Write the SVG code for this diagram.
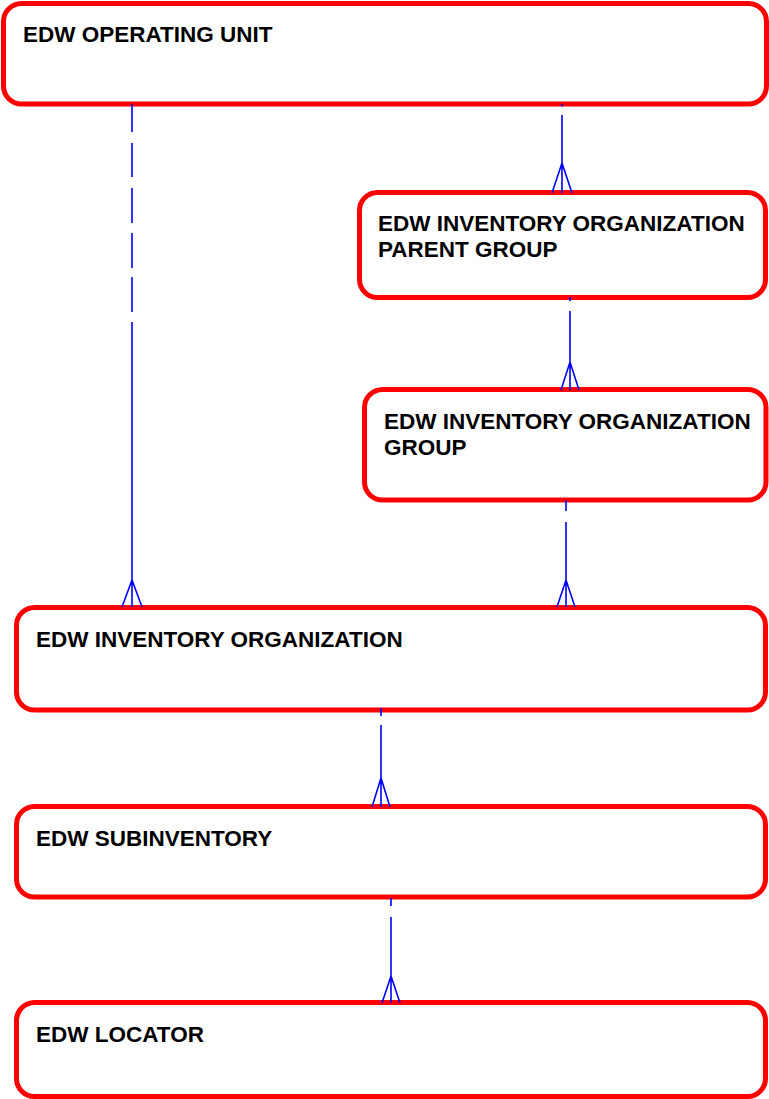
<svg xmlns="http://www.w3.org/2000/svg" width="769" height="1099" viewBox="0 0 769 1099">
<style>
.box{fill:#fff;stroke:#ff0000;stroke-width:5}
.lbl{font-family:"Liberation Sans",Arial,sans-serif;font-weight:bold;font-size:22.5px;fill:#000}
.con{fill:none;stroke:#0000ff;stroke-width:1.6}
</style>
<rect width="769" height="1099" fill="#fff"/>
<g id="operating-unit">
<rect class="box" x="3.5" y="3.5" width="763" height="100.5" rx="18"/>
<text class="lbl" x="23" y="42">EDW OPERATING UNIT</text>
</g>
<g id="inv-org-parent-group">
<rect class="box" x="359.5" y="192.5" width="406" height="105" rx="18"/>
<text class="lbl" x="378" y="231">EDW INVENTORY ORGANIZATION</text>
<text class="lbl" x="378" y="257">PARENT GROUP</text>
</g>
<g id="inv-org-group">
<rect class="box" x="364.5" y="389.5" width="401.5" height="110.5" rx="18"/>
<text class="lbl" x="384" y="429">EDW INVENTORY ORGANIZATION</text>
<text class="lbl" x="384" y="455">GROUP</text>
</g>
<g id="inventory-organization">
<rect class="box" x="16.5" y="607.5" width="749" height="102.5" rx="18"/>
<text class="lbl" x="36" y="647">EDW INVENTORY ORGANIZATION</text>
</g>
<g id="subinventory">
<rect class="box" x="16.5" y="806.5" width="749" height="90.5" rx="18"/>
<text class="lbl" x="36" y="846">EDW SUBINVENTORY</text>
</g>
<g id="locator">
<rect class="box" x="16.5" y="1002.5" width="749" height="94" rx="18"/>
<text class="lbl" x="36" y="1042">EDW LOCATOR</text>
</g>
<g id="connectors">
<path class="con" d="M132,104V132M132,143V177M132,188V223M132,233V268M132,277V312M132,322V607M122,607L132,580L142,607"/>
<path class="con" d="M562,104V106.5M562,115V193M552,193L562,163L572,193"/>
<path class="con" d="M570,297V301M570,311V390M561,390L570,362L579,390"/>
<path class="con" d="M566,500V511M566,522V607M557,607L566,580L575,607"/>
<path class="con" d="M381,708V716M381,725V807M372,807L381,778L390,807"/>
<path class="con" d="M391,898V906M391,917V1003M382,1003L391,976L400,1003"/>
</g>
</svg>
